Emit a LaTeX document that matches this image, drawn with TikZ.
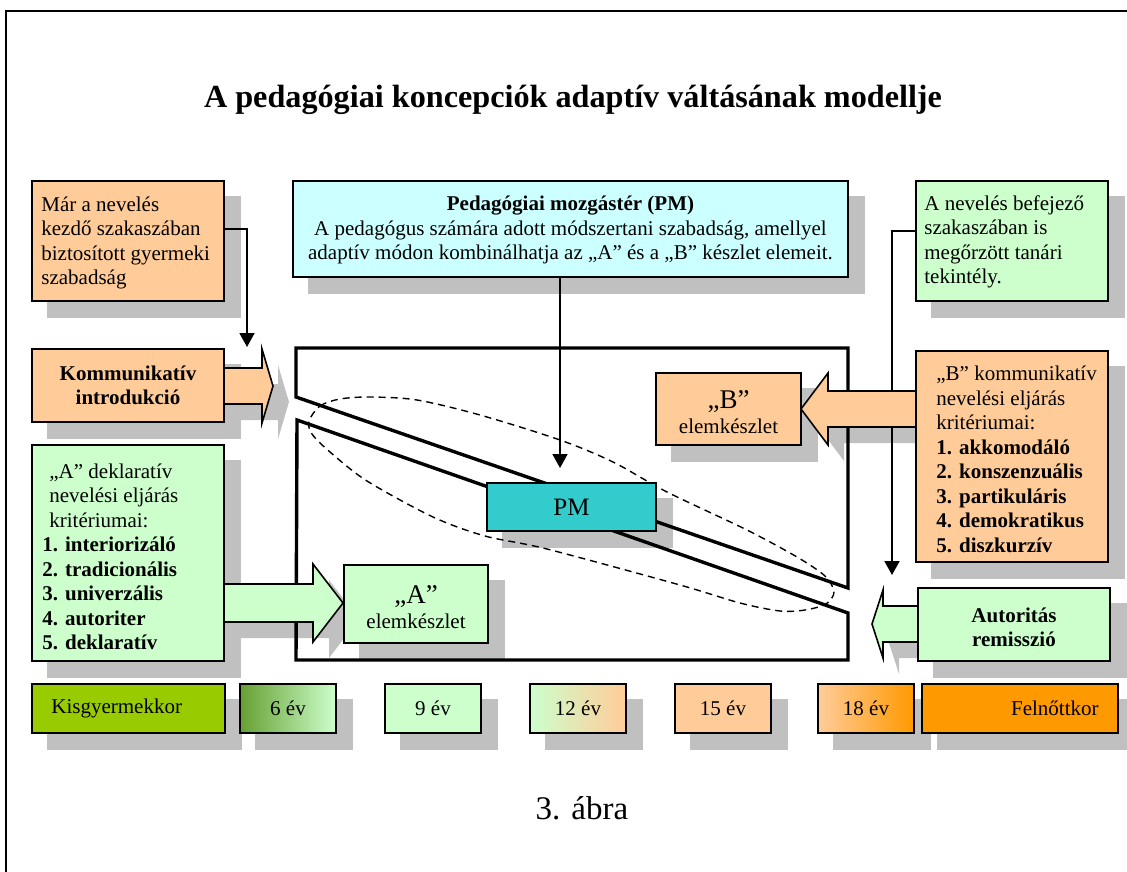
\documentclass[tikz,border=0pt]{standalone}
\usepackage{fontspec}
\setmainfont{Liberation Serif}
\usetikzlibrary{arrows.meta,calc}
\pgfdeclarelayer{bg}
\pgfsetlayers{bg,main}
\definecolor{orL}{HTML}{FFCC99}
\definecolor{grL}{HTML}{CCFFCC}
\definecolor{cyL}{HTML}{CCFFFF}
\definecolor{tealPM}{HTML}{33CCCC}
\definecolor{kisg}{HTML}{99CC00}
\definecolor{felg}{HTML}{FF9900}
\definecolor{sixg}{HTML}{66A032}
\definecolor{shc}{HTML}{C0C0C0}
\newcommand\shbox[1]{\fill[shc] ([shift={(16pt,-16pt)}]#1.south west) rectangle ([shift={(16pt,-16pt)}]#1.north east);}
\newcommand\fs{\fontsize{21}{24.5}\selectfont}
\newcommand\arrK[1]{\path[#1] (224,368) -- (262,368) -- (262,349) -- (273,386) -- (262,423) -- (262,404) -- (224,404) -- cycle;}
\newcommand\arrA[1]{\path[#1] (224,584) -- (313,584) -- (313,564) -- (343,603) -- (313,642) -- (313,622) -- (224,622) -- cycle;}
\newcommand\arrB[1]{\path[#1] (916,391) -- (828,391) -- (828,373) -- (801,409) -- (828,445) -- (828,427) -- (916,427) -- cycle;}
\newcommand\arrR[1]{\path[#1] (918,606) -- (883,606) -- (883,590) -- (872,624) -- (883,658) -- (883,642) -- (918,642) -- cycle;}
\tikzset{
  bx/.style={draw, line width=1.6pt, inner sep=0pt, font=\fs},
  txt/.style={font=\fs, inner sep=0pt},
  conn/.style={line width=1.8pt, -{Triangle[length=14pt,width=15pt]}},
  framel/.style={line width=3.4pt, line join=miter},
  fat/.style={draw, line width=1.6pt, line join=miter},
  ageb/.style={bx, minimum width=96pt, minimum height=49pt},
}
\begin{document}
\begin{tikzpicture}[x=1pt,y=-1pt]
\useasboundingbox (0,0) rectangle (1127,872);
% outer frame
\draw[line width=2.5pt] (6,872) -- (6,11) -- (1127,11);
% title
\node[font=\fontsize{32.2}{36}\selectfont\bfseries] (title) at (573,100) {A pedagógiai koncepciók adaptív váltásának modellje};
% model frame
\draw[framel] (296,397) -- (296,348) -- (848,348) -- (848,588) -- cycle;
\draw[framel] (297,420) -- (848,613) -- (848,660) -- (296,660) -- cycle;
% dashed ellipse
\draw[line width=1.4pt, dash pattern=on 7pt off 5pt] plot[smooth cycle] coordinates {
 (309,421) (320,406) (340,399) (370,397) (417,400) (480,415) (560,440) (613,462)
 (667,492) (747,530) (797,557) (825,576) (834,592) (826,604) (805,610) (780,611)
 (740,603) (680,585) (547,549) (485,536) (433,517) (367,481) (330,452) (312,434)};
% boxes
\node[bx, fill=orL, minimum width=192pt, minimum height=120pt] (tl) at (128,241) {};
\node[bx, fill=orL, minimum width=192pt, minimum height=73pt] (komm) at (128,385.5) {};
\node[bx, fill=cyL, minimum width=555pt, minimum height=96pt] (cyan) at (570.5,229) {};
\node[bx, fill=grL, minimum width=192pt, minimum height=120pt] (tr) at (1012,241) {};
\node[bx, fill=grL, minimum width=192pt, minimum height=216pt] (acrit) at (128,553) {};
\node[bx, fill=orL, minimum width=192pt, minimum height=211pt] (bcrit) at (1012,456.5) {};
\node[bx, fill=grL, minimum width=192pt, minimum height=73pt] (auto) at (1014,624.5) {};
% connectors
\coordinate (tipK) at (247,347);
\coordinate (tipPM) at (560,468);
\coordinate (tipR) at (892,575);
\draw[conn] ([yshift=12pt]tl.east) -| (tipK);
\draw[conn] (cyan.south -| tipPM) -- (tipPM);
\draw[conn] ([yshift=10pt]tr.west) -| (tipR);
% fat arrows
\arrK{fat, fill=orL}
\arrA{fat, fill=grL}
\arrB{fat, fill=orL}
\arrR{fat, fill=grL}
\node[bx, fill=grL, minimum width=144pt, minimum height=78pt] (aelem) at (416,604) {};
\node[bx, fill=orL, minimum width=145pt, minimum height=72pt] (belem) at (728.5,409) {};
\node[bx, fill=tealPM, minimum width=169pt, minimum height=48pt, font=\fontsize{25}{25}\selectfont] (pm) at (571.5,507) {PM};
% bottom row
\node[bx, fill=kisg, minimum width=193pt, minimum height=49pt] (k0) at (128.5,708.5) {};
\node[ageb, left color=sixg, right color=grL] (k6) at (288,708.5) {6 év};
\node[ageb, fill=grL] (k9) at (433,708.5) {9 év};
\node[ageb, left color=grL, right color=orL] (k12) at (578,708.5) {12 év};
\node[ageb, fill=orL] (k15) at (723,708.5) {15 év};
\node[ageb, left color=orL, right color=felg] (k18) at (866,708.5) {18 év};
\node[bx, fill=felg, minimum width=196pt, minimum height=49pt] (kf) at (1020,708.5) {};
% shadows
\begin{pgfonlayer}{bg}
\shbox{tl}\shbox{komm}\shbox{cyan}\shbox{tr}\shbox{acrit}\shbox{bcrit}\shbox{auto}
\shbox{aelem}\shbox{belem}\shbox{pm}
\shbox{k0}\shbox{k6}\shbox{k9}\shbox{k12}\shbox{k15}\shbox{k18}\shbox{kf}
\begin{scope}[shift={(16,16)}]
\arrK{fill=shc}\arrA{fill=shc}\arrB{fill=shc}\arrR{fill=shc}
\end{scope}
\end{pgfonlayer}
% texts
\node[txt, anchor=west, align=left] (tlt) at ([xshift=10pt,yshift=-2pt]tl.west) {Már a nevelés\\kezdő szakaszában\\biztosított gyermeki\\szabadság};
\node[txt, font=\fs\bfseries, align=center] (kommt) at (komm) {Kommunikatív\\introdukció};
\node[txt, align=center] (cyant) at ([yshift=-1pt]cyan.center) {\textbf{Pedagógiai mozgástér (PM)}\\A pedagógus számára adott módszertani szabadság, amellyel\\adaptív módon kombinálhatja az „A” és a „B” készlet elemeit.};
\node[txt, anchor=west, align=left] (trt) at ([xshift=9pt,yshift=-1pt]tr.west) {A nevelés befejező\\szakaszában is\\megőrzött tanári\\tekintély.};
\node[txt, anchor=west, align=left] (acritt) at ([xshift=11pt,yshift=-4pt]acrit.west) {\hspace*{7pt}„A” deklaratív\\\hspace*{7pt}nevelési eljárás\\\hspace*{7pt}kritériumai:\\\textbf{1. interiorizáló}\\\textbf{2. tradicionális}\\\textbf{3. univerzális}\\\textbf{4. autoriter}\\\textbf{5. deklaratív}};
\node[txt, anchor=west, align=left] (bcritt) at ([xshift=21pt,yshift=-3pt]bcrit.west) {„B” kommunikatív\\nevelési eljárás\\kritériumai:\\\textbf{1. akkomodáló}\\\textbf{2. konszenzuális}\\\textbf{3. partikuláris}\\\textbf{4. demokratikus}\\\textbf{5. diszkurzív}};
\node[txt, font=\fs\bfseries, align=center] (autot) at ([yshift=-3pt]auto.center) {Autoritás\\remisszió};
\node[txt, align=center] (aelemt) at ([yshift=-3pt]aelem.center) {{\fontsize{27}{27}\selectfont „A”}\\elemkészlet};
\node[txt, align=center] (belemt) at ([yshift=-3pt]belem.center) {{\fontsize{27}{27}\selectfont „B”}\\elemkészlet};
\node[txt, anchor=west] (k0t) at ([xshift=20pt]k0.west) {Kisgyermekkor};
\node[txt, anchor=east] (kft) at ([xshift=-20pt]kf.east) {Felnőttkor};
% caption
\node[font=\fontsize{33}{36}\selectfont] (cap) at (582,808) {3. ábra};
\end{tikzpicture}
\end{document}
